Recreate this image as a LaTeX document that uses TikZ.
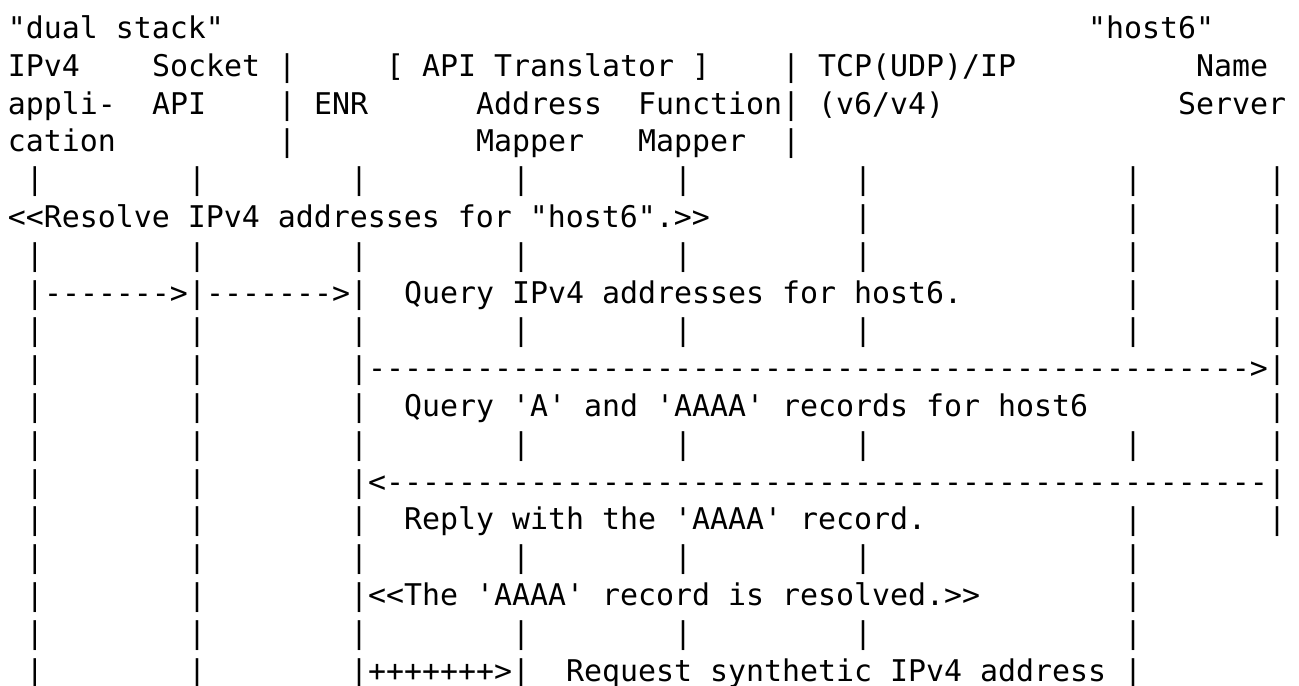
\documentclass[tikz,border=0pt]{standalone}
\usepackage{fontspec}
\setmonofont{DejaVu Sans Mono}
\tikzset{ascii/.style={anchor=base west, inner sep=0pt, outer sep=0pt,
  font=\ttfamily\fontsize{14.95pt}{18.9pt}\selectfont}}

\begin{document}
\begin{tikzpicture}[x=9pt, y=-18.9pt]
\useasboundingbox (-4pt,0.35pt) rectangle (645.5pt,-342.15pt);

% header
\node[ascii] (dualstack) at (0,1) {"dual stack"};
\node[ascii] (host6) at (60,1) {"host6"};
\node[ascii] (ipv4) at (0,2) {IPv4};
\node[ascii] (socket) at (8,2) {Socket};
\node[ascii] (translator) at (21,2) {[ API Translator ]};
\node[ascii] (tcpip) at (45,2) {TCP(UDP)/IP};
\node[ascii] (name) at (66,2) {Name};
\node[ascii] (appli) at (0,3) {appli-};
\node[ascii] (api) at (8,3) {API};
\node[ascii] (enr) at (17,3) {ENR};
\node[ascii] (address) at (26,3) {Address};
\node[ascii] (function) at (35,3) {Function};
\node[ascii] (v6v4) at (45,3) {(v6/v4)};
\node[ascii] (server) at (65,3) {Server};
\node[ascii] (cation) at (0,4) {cation};
\node[ascii] (mapperA) at (26,4) {Mapper};
\node[ascii] (mapperF) at (35,4) {Mapper};
\foreach \r in {2,3,4} {
  \node[ascii] (sepL-\r) at (15,\r) {|};
  \node[ascii] (sepR-\r) at (43,\r) {|};
}

% life lines
\foreach \r/\cols in {5/{1,10,19,28,37,47,62,70}, 6/{47,62,70},
    7/{1,10,19,28,37,47,62,70}, 8/{1,10,19,62,70},
    9/{1,10,19,28,37,47,62,70}, 10/{1,10,19,70}, 11/{1,10,19,70},
    12/{1,10,19,28,37,47,62,70}, 13/{1,10,19,70}, 14/{1,10,19,62,70},
    15/{1,10,19,28,37,47,62}, 16/{1,10,19,62},
    17/{1,10,19,28,37,47,62}, 18/{1,10,19,28,62}}
  \foreach \c in \cols
    \node[ascii] (bar-\r-\c) at (\c,\r) {|};

% messages
\node[ascii] (resolve) at (0,6) {<<Resolve IPv4 addresses for "host6".>>};
\node[ascii] (callsock) at (2,8) {------->};
\node[ascii] (callenr) at (11,8) {------->};
\node[ascii] (query4) at (22,8) {Query IPv4 addresses for host6.};
\node[ascii] (dnsreq) at (20,10) {------------------------------------------------->};
\node[ascii] (queryA) at (22,11) {Query 'A' and 'AAAA' records for host6};
\node[ascii] (dnsrep) at (20,13) {<-------------------------------------------------};
\node[ascii] (reply) at (22,14) {Reply with the 'AAAA' record.};
\node[ascii] (resolved) at (20,16) {<<The 'AAAA' record is resolved.>>};
\node[ascii] (mapreq) at (20,18) {+++++++>};
\node[ascii] (request) at (31,18) {Request synthetic IPv4 address};

\end{tikzpicture}
\end{document}
